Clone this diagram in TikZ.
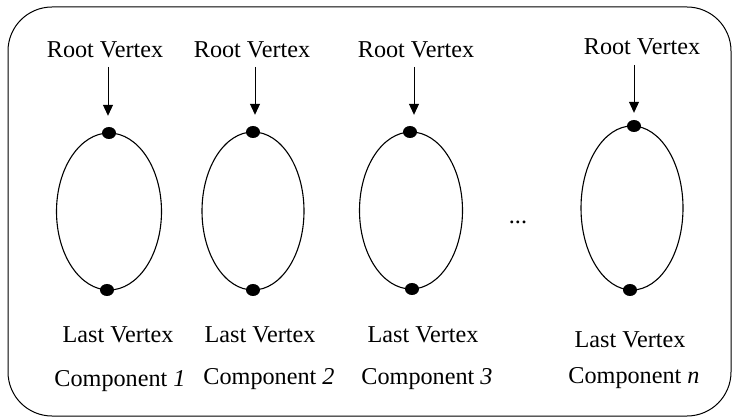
\documentclass[tikz,border=0pt]{standalone}
\usepackage{fontspec}
\setmainfont{Liberation Serif}
\usetikzlibrary{arrows.meta,shapes.geometric}
\begin{document}
\begin{tikzpicture}[x=1pt,y=-1pt,
  lbl/.style={anchor=base,inner sep=0pt,font=\fontsize{24.2}{26}\selectfont},
  vdot/.style={ellipse,fill=black,inner sep=0pt,minimum width=14pt,minimum height=12pt},
  ring/.style={line width=1.1pt},
  arr/.style={line width=0.9pt,-{Triangle[width=10pt,length=11pt]}},
  frame/.style={line width=1pt,rounded corners=44pt}]
\useasboundingbox (0,0) rectangle (733,419);
\draw[frame] (8,7) rectangle (731,416);
% ellipses
\draw[ring] (109,211.5) ellipse [x radius=52.5, y radius=78.5];
\draw[ring] (253,211) ellipse [x radius=51, y radius=79];
\draw[ring] (411,210.5) ellipse [x radius=51.5, y radius=78.5];
\draw[ring] (632,208) ellipse [x radius=51, y radius=82];
% vertex dots
\node[vdot] (t1) at (109,133) {};
\node[vdot] (b1) at (107,290) {};
\node[vdot] (t2) at (253,132) {};
\node[vdot] (b2) at (253,290) {};
\node[vdot] (t3) at (410,132) {};
\node[vdot] (b3) at (412,289) {};
\node[vdot] (tn) at (634,126) {};
\node[vdot] (bn) at (630,290) {};
% labels
\node[lbl] (r1) at (105,58) {Root Vertex};
\node[lbl] (r2) at (252,58) {Root Vertex};
\node[lbl] (r3) at (416,58) {Root Vertex};
\node[lbl] (rn) at (642,55) {Root Vertex};
\node[lbl] (l1) at (118,342) {Last Vertex};
\node[lbl] (l2) at (260,342) {Last Vertex};
\node[lbl] (l3) at (423,342) {Last Vertex};
\node[lbl] (ln) at (630,347) {Last Vertex};
\node[lbl] (c1) at (120,386) {Component \textit{1}};
\node[lbl] (c2) at (269,384) {Component \textit{2}};
\node[lbl] (c3) at (427,384) {Component \textit{3}};
\node[lbl] (cn) at (634,383) {Component \textit{n}};
\node[lbl] (dots) at (518,224) {...};
% arrows
\coordinate (s1) at (108,67);
\coordinate (s2) at (255,67);
\coordinate (s3) at (414,67);
\coordinate (sn) at (634,65);
\draw[arr,shorten >=11pt] (s1) -- (s1 |- t1.north);
\draw[arr,shorten >=11pt] (s2) -- (s2 |- t2.north);
\draw[arr,shorten >=11pt] (s3) -- (s3 |- t3.north);
\draw[arr,shorten >=7pt] (sn) -- (sn |- tn.north);
\end{tikzpicture}
\end{document}
